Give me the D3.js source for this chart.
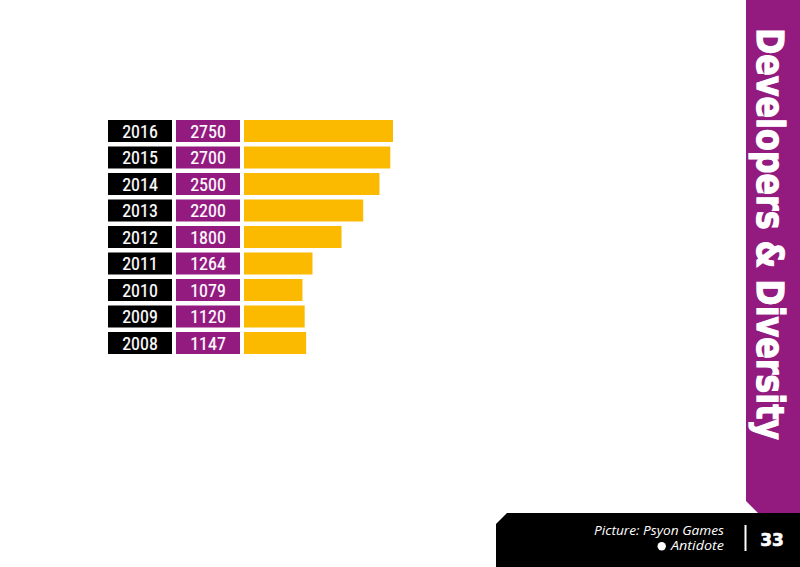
<!DOCTYPE html>
<html><head><meta charset="utf-8">
<script src="https://cdn.jsdelivr.net/npm/d3@7"></script>
<style>html,body{margin:0;padding:0;background:#fff;}svg{display:block;}</style>
</head><body>
<svg id="c" width="800" height="567"></svg>
<script>
const years = ["2016","2015","2014","2013","2012","2011","2010","2009","2008"];
const values = [2750, 2700, 2500, 2200, 1800, 1264, 1079, 1120, 1147];
const title = "Developers & Diversity";
const creditLines = ["Picture: Psyon Games", "Antidote"];
const pageNumber = "33";

const purple = "#931b7f", gold = "#fbb900";
const svg = d3.select("#c");

const yb = d3.scaleBand().domain(years).range([120, 120 + 26.5*9 - 4.5]).paddingInner(4.5/26.5);
const x = d3.scaleLinear().domain([0, 2750]).range([0, 149]);

const rowFont = "'Liberation Sans Narrow','Arial Narrow','Roboto Condensed',Roboto,sans-serif";
const rows = svg.append("g").selectAll("g").data(years.map((yr,i)=>({yr, v: values[i]}))).join("g")
  .attr("transform", d => `translate(0,${yb(d.yr)})`);
rows.append("rect").attr("x",108).attr("width",64).attr("height",yb.bandwidth()).attr("fill","#000");
rows.append("rect").attr("x",176).attr("width",64).attr("height",yb.bandwidth()).attr("fill",purple);
rows.append("rect").attr("x",244).attr("width",d=>x(d.v)).attr("height",yb.bandwidth()).attr("fill",gold);
rows.append("text").attr("x",140).attr("y",yb.bandwidth()/2+6.5).attr("text-anchor","middle")
  .attr("fill","#fff").attr("stroke","#fff").attr("stroke-width",0.2)
  .attr("font-family",rowFont).attr("font-size",18).text(d=>d.yr);
rows.append("text").attr("x",208).attr("y",yb.bandwidth()/2+6.5).attr("text-anchor","middle")
  .attr("fill","#fff").attr("stroke","#fff").attr("stroke-width",0.2)
  .attr("font-family",rowFont).attr("font-size",18).text(d=>d.v);

// side panel
svg.append("path").attr("d","M746,0 L800,0 L800,513 L758,513 L746,501 Z").attr("fill",purple);
svg.append("text").attr("transform","translate(757,28) rotate(90)")
  .attr("fill","#fff").attr("stroke","#fff").attr("stroke-width",1.2)
  .attr("font-family","'DejaVu Sans',sans-serif").attr("font-weight","bold")
  .attr("font-size",37).attr("textLength",412).attr("lengthAdjust","spacingAndGlyphs").text(title);

// footer
svg.append("path").attr("d","M507,513 L800,513 L800,567 L496,567 L496,524 Z").attr("fill","#000");
const footFont = "'Open Sans','DejaVu Sans',sans-serif";
svg.append("text").attr("x",594).attr("y",534.5).attr("fill","#fff")
  .attr("font-family",footFont).attr("font-style","italic").attr("font-size",12.5)
  .attr("textLength",130).attr("lengthAdjust","spacingAndGlyphs").text(creditLines[0]);
svg.append("text").attr("x",671).attr("y",550).attr("fill","#fff")
  .attr("font-family",footFont).attr("font-style","italic").attr("font-size",12.5)
  .attr("textLength",53).attr("lengthAdjust","spacingAndGlyphs").text(creditLines[1]);
svg.append("circle").attr("cx",661.7).attr("cy",546.3).attr("r",4.2).attr("fill","#fff");
svg.append("line").attr("x1",745.5).attr("x2",745.5).attr("y1",525).attr("y2",551).attr("stroke","#fff").attr("stroke-width",2);
svg.append("text").attr("x",772).attr("y",546).attr("text-anchor","middle").attr("fill","#fff")
  .attr("stroke","#fff").attr("stroke-width",0.6)
  .attr("font-family","'DejaVu Sans',sans-serif").attr("font-weight","bold").attr("font-size",17).text(pageNumber);
</script>
</body></html>
